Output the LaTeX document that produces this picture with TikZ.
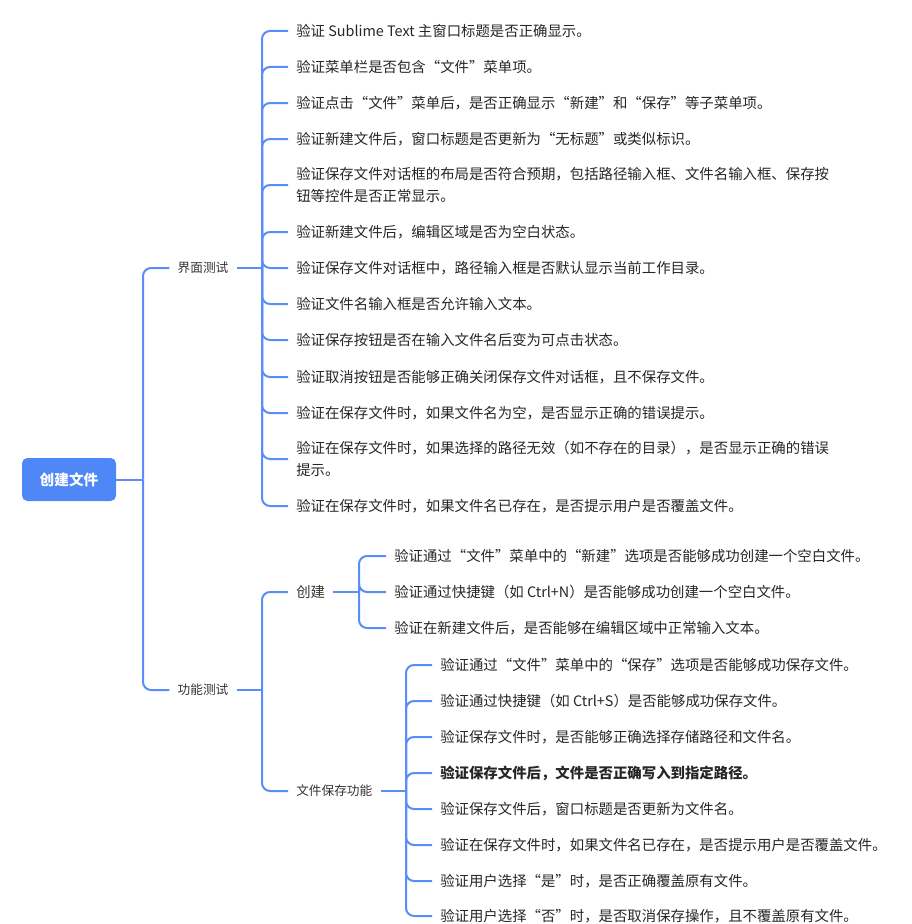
\documentclass[tikz,border=0pt]{standalone}
\usepackage{fontspec}
\setmainfont{Noto Sans CJK SC}
\definecolor{lineblue}{HTML}{5A8DF7}
\definecolor{rootblue}{HTML}{4F87F7}
\definecolor{txt}{HTML}{262626}
\definecolor{labtxt}{HTML}{333333}
\tikzset{
  conn/.style={draw=lineblue, line width=1.5pt, rounded corners=6pt},
  rootbox/.style={fill=rootblue, rounded corners=4pt, text=white, font=\fontsize{11pt}{13pt}\selectfont\bfseries, minimum width=70.5pt, minimum height=32.25pt, inner sep=0pt},
  lab/.style={text=labtxt, font=\fontsize{9.5pt}{12pt}\selectfont, inner xsep=6pt, inner ysep=2pt},
  sublab/.style={text=labtxt, font=\fontsize{10.8pt}{13pt}\selectfont, inner xsep=6pt, inner ysep=2pt},
  leaf/.style={anchor=west, text=txt, font=\fontsize{10.8pt}{16.5pt}\selectfont, align=left, inner xsep=6pt, inner ysep=2pt},
}
\begin{document}
\begin{tikzpicture}[x=0.75pt,y=-0.75pt]
\useasboundingbox (0,0) rectangle (912,924);
% root
\node[rootbox] (r) at (69,479.5) {创建文件};
\node[lab] (ui) at (203,268) {界面测试};
\node[lab] (fn) at (203,690) {功能测试};
\node[sublab, anchor=west] (cj) at (288,592) {创建};
\node[lab, anchor=west] (save) at (288,791) {文件保存功能};
% UI leaves
\node[leaf] (a1) at (288,31) {验证 Sublime Text 主窗口标题是否正确显示。};
\node[leaf] (a2) at (288,67) {验证菜单栏是否包含“文件”菜单项。};
\node[leaf] (a3) at (288,103) {验证点击“文件”菜单后，是否正确显示“新建”和“保存”等子菜单项。};
\node[leaf] (a4) at (288,139) {验证新建文件后，窗口标题是否更新为“无标题”或类似标识。};
\node[leaf] (a5) at (288,185) {验证保存文件对话框的布局是否符合预期，包括路径输入框、文件名输入框、保存按\\钮等控件是否正常显示。};
\node[leaf] (a6) at (288,232) {验证新建文件后，编辑区域是否为空白状态。};
\node[leaf] (a7) at (288,268) {验证保存文件对话框中，路径输入框是否默认显示当前工作目录。};
\node[leaf] (a8) at (288,304) {验证文件名输入框是否允许输入文本。};
\node[leaf] (a9) at (288,340) {验证保存按钮是否在输入文件名后变为可点击状态。};
\node[leaf] (a10) at (288,377) {验证取消按钮是否能够正确关闭保存文件对话框，且不保存文件。};
\node[leaf] (a11) at (288,413) {验证在保存文件时，如果文件名为空，是否显示正确的错误提示。};
\node[leaf] (a12) at (288,459) {验证在保存文件时，如果选择的路径无效（如不存在的目录），是否显示正确的错误\\提示。};
\node[leaf] (a13) at (288,506) {验证在保存文件时，如果文件名已存在，是否提示用户是否覆盖文件。};
% create leaves
\node[leaf] (b1) at (386,556) {验证通过“文件”菜单中的“新建”选项是否能够成功创建一个空白文件。};
\node[leaf] (b2) at (386,592) {验证通过快捷键（如 Ctrl+N）是否能够成功创建一个空白文件。};
\node[leaf] (b3) at (386,628) {验证在新建文件后，是否能够在编辑区域中正常输入文本。};
% save leaves
\node[leaf] (c1) at (432,665) {验证通过“文件”菜单中的“保存”选项是否能够成功保存文件。};
\node[leaf] (c2) at (432,701) {验证通过快捷键（如 Ctrl+S）是否能够成功保存文件。};
\node[leaf] (c3) at (432,737) {验证保存文件时，是否能够正确选择存储路径和文件名。};
\node[leaf, font=\fontsize{10.8pt}{16.5pt}\selectfont\bfseries] (c4) at (432,773) {验证保存文件后，文件是否正确写入到指定路径。};
\node[leaf] (c5) at (432,809) {验证保存文件后，窗口标题是否更新为文件名。};
\node[leaf] (c6) at (432,845) {验证在保存文件时，如果文件名已存在，是否提示用户是否覆盖文件。};
\node[leaf] (c7) at (432,881) {验证用户选择“是”时，是否正确覆盖原有文件。};
\node[leaf] (c8) at (432,916) {验证用户选择“否”时，是否取消保存操作，且不覆盖原有文件。};
% connectors
\coordinate (t0) at (143,479.5);
\draw[conn] (r.east) -- (t0);
\foreach \c in {ui,fn} \draw[conn] (t0) |- (\c.west);
\coordinate (s1) at (262,268);
\draw[conn] (ui.east) -- (s1);
\foreach \c in {a1,a2,a3,a4,a5,a6,a7,a8,a9,a10,a11,a12,a13} \draw[conn] (s1) |- (\c.west);
\coordinate (s2) at (262,690);
\draw[conn] (fn.east) -- (s2);
\foreach \c in {cj,save} \draw[conn] (s2) |- (\c.west);
\coordinate (s3) at (359,592);
\draw[conn] (cj.east) -- (s3);
\foreach \c in {b1,b2,b3} \draw[conn] (s3) |- (\c.west);
\coordinate (s4) at (406,791);
\draw[conn] (save.east) -- (s4);
\foreach \c in {c1,c2,c3,c4,c5,c6,c7,c8} \draw[conn] (s4) |- (\c.west);
\end{tikzpicture}
\end{document}
